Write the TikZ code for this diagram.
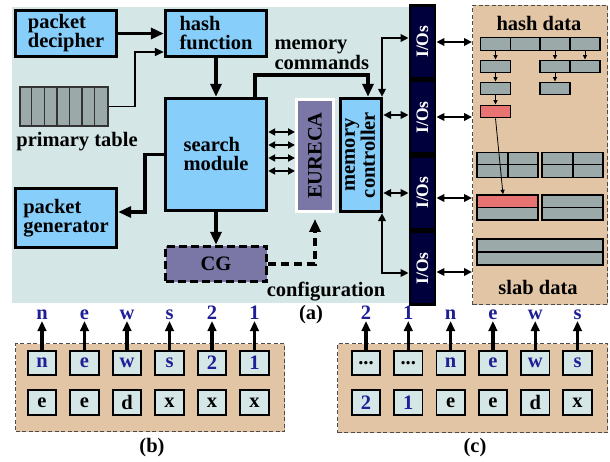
\documentclass[tikz,border=0pt]{standalone}
\usepackage{fontspec}
\setmainfont{Liberation Serif}
\usepackage{graphicx}
\usetikzlibrary{arrows.meta}

\definecolor{bgc}{HTML}{D4E6E6}
\definecolor{skyb}{HTML}{87CEFA}
\definecolor{purp}{HTML}{7A77A6}
\definecolor{navyc}{HTML}{00003C}
\definecolor{tanc}{HTML}{E2C5A5}
\definecolor{grayc}{HTML}{9BA9A8}
\definecolor{redc}{HTML}{E77373}
\definecolor{bluet}{HTML}{1E1E96}

\newcommand\mfs{\fontsize{20.5}{19}\selectfont\bfseries}
\newcommand\iofs{\fontsize{17.5}{18}\selectfont\bfseries}
\newcommand\dts{...}

\begin{document}
\begin{tikzpicture}[x=1pt,y=-1pt,
  blk/.style={draw, line width=3.4pt, fill=skyb, inner sep=1pt, align=left, font=\mfs},
  cgbox/.style={draw, line width=3.4pt, dash pattern=on 8pt off 4pt, fill=purp, inner sep=1pt, font=\mfs},
  eubox/.style={draw=white, line width=3pt, fill=purp, inner sep=0pt, minimum width=37, minimum height=112, font=\mfs},
  iobox/.style={draw=black, line width=2.8pt, fill=navyc, text=white, inner sep=0pt, minimum width=25, minimum height=73, font=\iofs},
  panel/.style={draw=black!70, line width=1pt, dash pattern=on 4pt off 2.5pt, fill=tanc, inner sep=0pt},
  hc/.style={draw, line width=1.4pt, fill=grayc, inner sep=0pt, minimum width=30, minimum height=12.5},
  bc/.style={draw, line width=1.7pt, fill=bgc, inner sep=0pt, minimum width=28.5, minimum height=24.5, font=\mfs},
  lbl/.style={font=\mfs, inner sep=0pt, anchor=south},
  arr/.style={line width=3.3pt, -{Triangle[length=13pt,width=11pt]}},
  tarr/.style={line width=1.4pt, -{Triangle[length=9pt,width=8pt]}},
  darr/.style={line width=3.3pt, dash pattern=on 8pt off 5pt, -{Triangle[length=13pt,width=11pt]}},
  dbl/.style={line width=2.3pt, {Triangle[length=8pt,width=7.5pt]}-{Triangle[length=8pt,width=7.5pt]}},
  dbls/.style={line width=2.3pt, {Triangle[length=7pt,width=7pt]}-{Triangle[length=7pt,width=7pt]}},
  sarr/.style={line width=0.8pt, -{Triangle[length=4.5pt,width=4pt]}},
  uarr/.style={line width=3.2pt, -{Triangle[length=10pt,width=8.5pt]}, shorten >=1pt}]

\useasboundingbox (0,0) rectangle (610,462);

% system panel background
\fill[bgc] (12,7) rectangle (410,303);

% functional blocks
\node[blk, minimum width=101, minimum height=46] (pd) at (66,33.5) {packet\\decipher};
\node[blk, minimum width=101, minimum height=46] (hf) at (216,33.5) {hash\\function};
\node[blk, minimum width=101, minimum height=112] (sm) at (216,154.5) {search\\module};
\node[blk, minimum width=101, minimum height=59] (pg) at (66,218) {packet\\generator};
\node[cgbox, minimum width=101, minimum height=35] (cg) at (216,264) {CG};
\node[eubox] (eu) at (315,155.5) {\rotatebox{90}{EURECA}};
\node[blk, minimum width=41, minimum height=113, align=center] (mc) at (361,155)
  {\rotatebox{90}{\begin{tabular}{@{}c@{}}memory\\controller\end{tabular}}};

% primary table
\node[draw=black!80, line width=1.5pt, fill=grayc, minimum width=88, minimum height=39, inner sep=0pt] (pt) at (64,106.5) {};
\foreach \i in {1,...,6}
  \draw[line width=1.3pt, black!80] (pt.north west) ++(\i*12.571,0) -- ++(0,39);
\node[font=\mfs] (ptl) at (77,142) {primary table};

% I/O column
\node[iobox] (io1) at (422.5,41.75) {\rotatebox{90}{I/Os}};
\node[iobox] (io2) at (422.5,117.25) {\rotatebox{90}{I/Os}};
\node[iobox] (io3) at (422.5,192.75) {\rotatebox{90}{I/Os}};
\node[iobox] (io4) at (422.5,268.25) {\rotatebox{90}{I/Os}};

% texts
\node[font=\fontsize{20.5}{16}\selectfont\bfseries, align=left, anchor=west] (mcl) at (271,55) {memory\\commands};
\node[font=\mfs] (cfg) at (326,292) {configuration};
\node[font=\mfs] (la) at (311,315) {(a)};

% connectors in the system panel
\draw[arr] (pd.east) -- (hf.west);
\coordinate (k3) at (135,52);
\draw[tarr] (pt.east) -| (k3) -- (k3 -| hf.west);
\draw[arr] (hf.south) -- (sm.north);
\coordinate (k2) at (145,212);
\draw[arr] (sm.west) -| (k2) -- (k2 -| pg.east);
\draw[arr] (sm.south) -- (cg.north);
\draw[darr, shorten >=6pt] (cg.east) -| (eu.south);
\coordinate (k4) at (255,75);
\coordinate (k5) at (368,75);
\draw[arr] (k4 |- sm.north) -- (k4) -- (k5) -- (k5 |- mc.north);
\foreach \yy [count=\k] in {132,145,158,171} {
  \coordinate (q\k) at (0,\yy);
  \draw[dbls] (sm.east |- q\k) -- (eu.west |- q\k);
}
\coordinate (t1) at (382,38);
\draw[dbl] (t1 |- mc.north) -- (t1) -- (t1 -| io1.west);
\coordinate (t2) at (0,115);
\draw[dbl] (mc.east |- t2) -- (io2.west |- t2);
\coordinate (t3) at (0,193);
\draw[dbl] (mc.east |- t3) -- (io3.west |- t3);
\coordinate (t4) at (382,273);
\draw[dbl] (t4 |- mc.south) -- (t4) -- (t4 -| io4.west);

% memory panel
\node[panel, minimum width=135, minimum height=299] (hp) at (540,155) {};
\node[font=\mfs] (hd) at (539,23) {hash data};
\node[font=\mfs] (sd) at (538,287) {slab data};
\foreach \yy [count=\k] in {42,117,198,272} {
  \coordinate (r\k) at (0,\yy);
}
\draw[dbl] (io1.east |- r1) -- (hp.west |- r1);
\draw[dbl] (io2.east |- r2) -- (hp.west |- r2);
\draw[dbl] (io3.east |- r3) -- (hp.west |- r3);
\draw[dbl] (io4.east |- r4) -- (hp.west |- r4);

% hash chains
\node[hc] (h11) at (495.5,44) {};
\node[hc] (h12) at (525.5,44) {};
\node[hc] (h13) at (555,44) {};
\node[hc] (h14) at (585,44) {};
\node[hc] (h21) at (495.5,66.5) {};
\node[hc] (h23) at (555,66.5) {};
\node[hc] (h24) at (585,66.5) {};
\node[hc] (h31) at (495.5,88.5) {};
\node[hc] (h33) at (555,88.5) {};
\node[hc, fill=redc] (h41) at (495.5,111.5) {};
\draw[sarr] (h11.south) -- (h21.north);
\draw[sarr] (h13.south) -- (h23.north);
\draw[sarr] (h14.south) -- (h24.north);
\draw[sarr] (h21.south) -- (h31.north);
\draw[sarr] (h23.south) -- (h33.north);
\draw[sarr] (h31.south) -- (h41.north);

% slabs
\node[hc, minimum width=31] (s11) at (492.5,158.5) {};
\node[hc] (s12) at (523,158.5) {};
\node[hc, minimum width=31] (s13) at (492.5,171) {};
\node[hc] (s14) at (523,171) {};
\node[hc, minimum width=31] (s15) at (557.5,158.5) {};
\node[hc] (s16) at (588,158.5) {};
\node[hc, minimum width=31] (s17) at (557.5,171) {};
\node[hc] (s18) at (588,171) {};
\node[hc, minimum width=61, fill=redc] (s21) at (507.5,201.25) {};
\node[hc, minimum width=61] (s22) at (507.5,213.75) {};
\node[hc, minimum width=61] (s23) at (572.5,201.25) {};
\node[hc, minimum width=61] (s24) at (572.5,213.75) {};
\node[hc, minimum width=126, minimum height=13] (s31) at (540,245.5) {};
\node[hc, minimum width=126, minimum height=13] (s32) at (540,258.5) {};
\draw[sarr] (h41.south) -- ([xshift=-4.5pt]s21.north);

% (b) list
\node[panel, minimum width=269, minimum height=88] (pb) at (150,387.5) {};
\foreach \x/\tt/\bb [count=\i] in {42/n/e, 84.5/e/e, 127/w/d, 169.5/s/x, 212/2/x, 254.5/1/x} {
  \node[bc, text=bluet] (b\i) at (\x,363) {\tt};
  \node[bc] (bb\i) at (\x,402.5) {\bb};
  \node[lbl, text=bluet] (lb\i) at (\x,320) {\tt};
  \draw[uarr] (b\i.north) -- (lb\i.south);
}
\node[font=\mfs] (lbb) at (152,448) {(b)};

% (c) list
\node[panel, minimum width=270, minimum height=89] (pc) at (472.5,388) {};
\foreach \x/\tt/\tc/\bb/\bcol/\ll [count=\i] in {366/\dts/black/2/bluet/2, 408.3/\dts/black/1/bluet/1, 450.6/n/bluet/e/black/n, 492.9/e/bluet/e/black/e, 535.2/w/bluet/d/black/w, 577.5/s/bluet/x/black/s} {
  \node[bc, text=\tc] (c\i) at (\x,363) {\tt};
  \node[bc, text=\bcol] (cc\i) at (\x,402.5) {\bb};
  \node[lbl, text=bluet] (lc\i) at (\x,320) {\ll};
  \draw[uarr] (c\i.north) -- (lc\i.south);
}
\node[font=\mfs] (lcc) at (475,448) {(c)};

\end{tikzpicture}
\end{document}
